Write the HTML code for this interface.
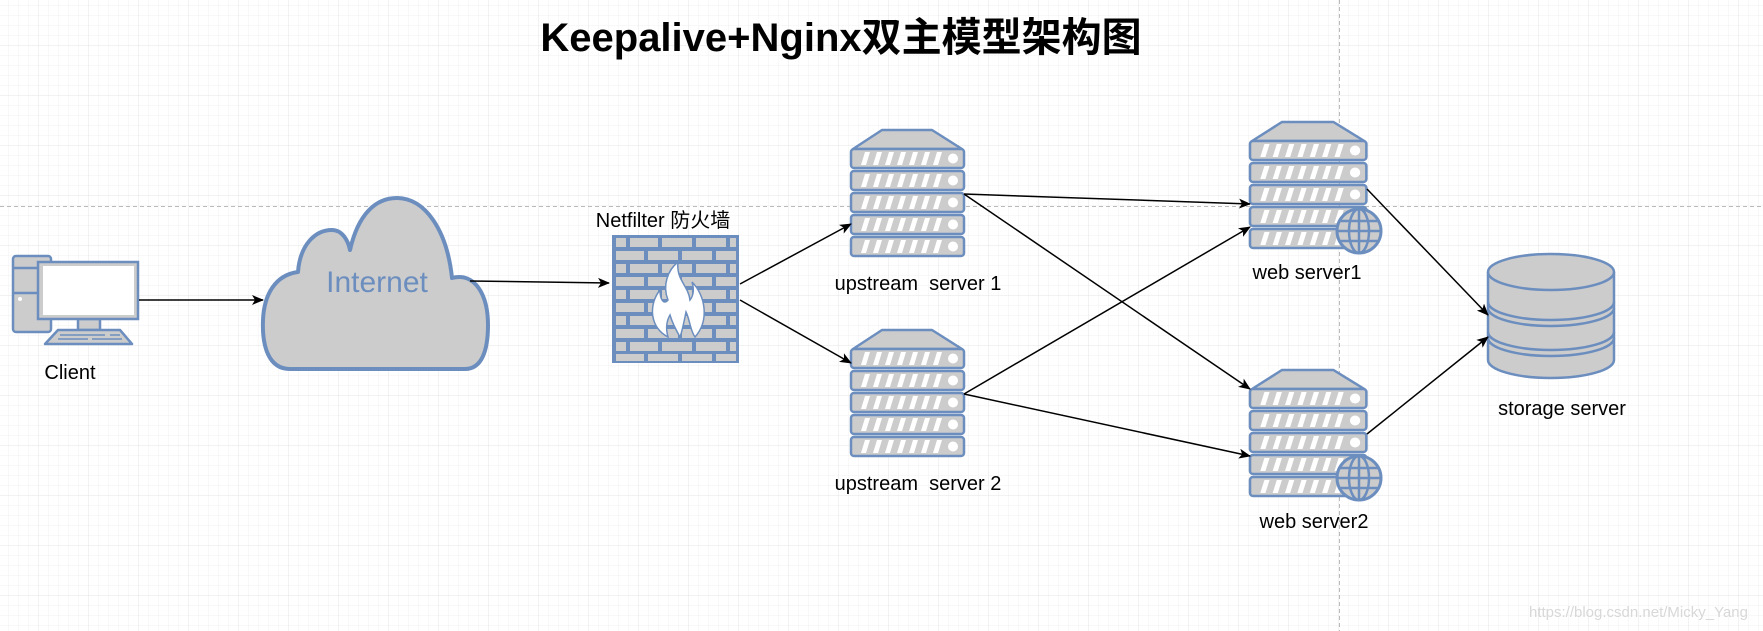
<!DOCTYPE html>
<html><head><meta charset="utf-8"><style>
html,body{margin:0;padding:0;background:#fff;}
svg{display:block;}
text{font-family:"Liberation Sans","Noto Sans CJK SC",sans-serif;}
</style></head><body>
<svg width="1763" height="631" viewBox="0 0 1763 631" xmlns="http://www.w3.org/2000/svg">
<defs>
<pattern id="minor" width="10" height="10" patternUnits="userSpaceOnUse" x="8" y="5">
<path d="M10 0H0V10" fill="none" stroke="#f2f2f2" stroke-width="1"/>
</pattern>
<pattern id="major" width="50" height="50" patternUnits="userSpaceOnUse" x="38" y="45">
<path d="M50 0H0V50" fill="none" stroke="#e4e4e4" stroke-width="1"/>
</pattern>
<marker id="ar" markerWidth="12" markerHeight="10" refX="11" refY="5" orient="auto" markerUnits="userSpaceOnUse">
<path d="M0,0 L12,5 L0,10 L3,5 Z" fill="#000"/>
</marker>
<g id="row">
<rect x="0" y="0" width="113" height="19" rx="3" fill="#ccc" stroke="#6c8ebf" stroke-width="2.5"/>
<path d="M10,16 l4,-13 h5 l-4,13z M22,16 l4,-13 h5 l-4,13z M34,16 l4,-13 h5 l-4,13z M46,16 l4,-13 h5 l-4,13z M58,16 l4,-13 h5 l-4,13z M70,16 l4,-13 h5 l-4,13z M82,16 l4,-13 h5 l-4,13z" fill="#fff"/>
<circle cx="102" cy="9.5" r="5" fill="#fff"/>
</g>
<g id="srv">
<polygon points="2,19 31,0 81,0 111,19" fill="#ccc" stroke="#6c8ebf" stroke-width="2.5" stroke-linejoin="round"/>
<use href="#row" y="19"/><use href="#row" y="41"/><use href="#row" y="63"/><use href="#row" y="85"/><use href="#row" y="107"/>
</g>
<g id="globe">
<circle cx="0" cy="0" r="22" fill="#ccc" stroke="#6c8ebf" stroke-width="3"/>
<ellipse cx="0" cy="0" rx="10" ry="22" fill="none" stroke="#6c8ebf" stroke-width="2.5"/>
<line x1="0" y1="-22" x2="0" y2="22" stroke="#6c8ebf" stroke-width="2.5"/>
<line x1="-22" y1="0" x2="22" y2="0" stroke="#6c8ebf" stroke-width="2.5"/>
<line x1="-19" y1="-10" x2="19" y2="-10" stroke="#6c8ebf" stroke-width="2.5"/>
<line x1="-19" y1="10" x2="19" y2="10" stroke="#6c8ebf" stroke-width="2.5"/>
</g>
</defs>
<rect width="1763" height="631" fill="url(#minor)"/>
<rect width="1763" height="631" fill="url(#major)"/>
<line x1="0" y1="206.5" x2="1763" y2="206.5" stroke="#bbb" stroke-dasharray="4,3"/>
<line x1="1339.5" y1="0" x2="1339.5" y2="631" stroke="#bbb" stroke-dasharray="4,3"/>

<text x="841" y="51" font-size="40" font-weight="bold" text-anchor="middle" fill="#000">Keepalive+Nginx双主模型架构图</text>

<!-- client -->
<rect x="13" y="256" width="38" height="76" rx="3" fill="#ccc" stroke="#6c8ebf" stroke-width="2.5"/>
<line x1="13" y1="268" x2="38" y2="268" stroke="#6c8ebf" stroke-width="2.5"/>
<line x1="13" y1="293" x2="38" y2="293" stroke="#6c8ebf" stroke-width="2.5"/>
<circle cx="20" cy="299" r="2" fill="#fff"/>
<rect x="78" y="319" width="22" height="11" fill="#ccc" stroke="#6c8ebf" stroke-width="2.5"/>
<rect x="38" y="262" width="100" height="57" fill="#ccc" stroke="#6c8ebf" stroke-width="2.5"/>
<rect x="43" y="266" width="91" height="49" fill="#fff"/>
<polygon points="58,330 120,330 132,344 45,344" fill="#ccc" stroke="#6c8ebf" stroke-width="2.5" stroke-linejoin="round"/>
<path d="M60,335h45 M110,335h10 M58,339h30 M92,339h30" stroke="#6c8ebf" stroke-width="1.5"/>
<text x="70" y="379" font-size="20" text-anchor="middle">Client</text>

<!-- cloud -->
<path d="M290,369 C268,369 262,345 263,320 C264,295 275,275 298,272 C300,245 315,230 332,230 C342,230 348,240 350,250 C358,215 375,198 397,198 C425,198 447,230 452,278 C475,272 488,295 488,325 C488,350 482,369 465,369 Z" fill="#ccc" stroke="#6c8ebf" stroke-width="4" stroke-linejoin="round"/>
<text x="377" y="292" font-size="30" text-anchor="middle" fill="#6c8ebf">Internet</text>

<!-- firewall -->
<rect x="612" y="235" width="127" height="128" fill="#6c8ebf"/>
<g fill="#ccc">
<path d="M616,238h10v9h-10z M630,238h28v9h-28z M662,238h30v9h-30z M696,238h30v9h-30z M730,238h6v9h-6z"/>
<path d="M616,251h28v9h-28z M648,251h30v9h-30z M682,251h30v9h-30z M716,251h20v9h-20z"/>
<path d="M616,264h10v9h-10z M630,264h28v9h-28z M662,264h30v9h-30z M696,264h30v9h-30z M730,264h6v9h-6z"/>
<path d="M616,277h28v9h-28z M648,277h30v9h-30z M682,277h30v9h-30z M716,277h20v9h-20z"/>
<path d="M616,290h10v9h-10z M630,290h28v9h-28z M662,290h30v9h-30z M696,290h30v9h-30z M730,290h6v9h-6z"/>
<path d="M616,303h28v9h-28z M648,303h30v9h-30z M682,303h30v9h-30z M716,303h20v9h-20z"/>
<path d="M616,316h10v9h-10z M630,316h28v9h-28z M662,316h30v9h-30z M696,316h30v9h-30z M730,316h6v9h-6z"/>
<path d="M616,329h28v9h-28z M648,329h30v9h-30z M682,329h30v9h-30z M716,329h20v9h-20z"/>
<path d="M616,342h10v9h-10z M630,342h28v9h-28z M662,342h30v9h-30z M696,342h30v9h-30z M730,342h6v9h-6z"/>
<path d="M616,354h28v7h-28z M648,354h30v7h-30z M682,354h30v7h-30z M716,354h20v7h-20z"/>
</g>
<path d="M668,337 C650,328 648,305 660,290 C660,300 664,305 668,300 C662,285 668,270 678,262 C676,280 688,285 690,300 C694,295 694,288 692,282 C705,295 710,320 695,337 C690,330 690,320 686,312 C684,322 682,332 680,337 C676,330 672,322 670,315 C666,322 666,330 668,337 Z" fill="#fff" stroke="#6c8ebf" stroke-width="1.5"/>
<text x="663" y="227" font-size="20" text-anchor="middle">Netfilter 防火墙</text>

<!-- servers -->
<use href="#srv" x="851" y="130"/>
<use href="#srv" x="851" y="330"/>
<use href="#srv" transform="translate(1250,122) scale(1.03,1)"/>
<use href="#srv" transform="translate(1250,370) scale(1.03,1)"/>
<use href="#globe" x="1359" y="231"/>
<use href="#globe" x="1359" y="478"/>
<text x="918" y="290" font-size="20" text-anchor="middle" xml:space="preserve">upstream  server 1</text>
<text x="918" y="490" font-size="20" text-anchor="middle" xml:space="preserve">upstream  server 2</text>
<text x="1307" y="279" font-size="20" text-anchor="middle">web server1</text>
<text x="1314" y="528" font-size="20" text-anchor="middle">web server2</text>

<!-- storage -->
<path d="M1488,272 V360 A63,18 0 0 0 1614,360 V272" fill="#ccc" stroke="#6c8ebf" stroke-width="2.5"/>
<ellipse cx="1551" cy="272" rx="63" ry="18" fill="#ccc" stroke="#6c8ebf" stroke-width="2.5"/>
<path d="M1488,302 A63,18 0 0 0 1614,302 M1488,308 A63,18 0 0 0 1614,308 M1488,332 A63,18 0 0 0 1614,332 M1488,338 A63,18 0 0 0 1614,338" fill="none" stroke="#6c8ebf" stroke-width="2.5"/>
<text x="1562" y="415" font-size="20" text-anchor="middle">storage server</text>

<!-- arrows -->
<g stroke="#000" stroke-width="1.5" fill="none" marker-end="url(#ar)">
<line x1="139" y1="300" x2="263" y2="300"/>
<line x1="470" y1="281" x2="609" y2="283"/>
<line x1="740" y1="284" x2="851" y2="224"/>
<line x1="740" y1="300" x2="851" y2="363"/>
<line x1="964" y1="194" x2="1250" y2="204"/>
<line x1="964" y1="194" x2="1250" y2="389"/>
<line x1="964" y1="394" x2="1250" y2="227"/>
<line x1="964" y1="394" x2="1250" y2="456"/>
<line x1="1367" y1="189" x2="1488" y2="315"/>
<line x1="1367" y1="434" x2="1488" y2="337"/>
</g>

<text x="1748" y="617" font-size="15" text-anchor="end" fill="#d8d8d8">https://blog.csdn.net/Micky_Yang</text>
</svg>
</body></html>
